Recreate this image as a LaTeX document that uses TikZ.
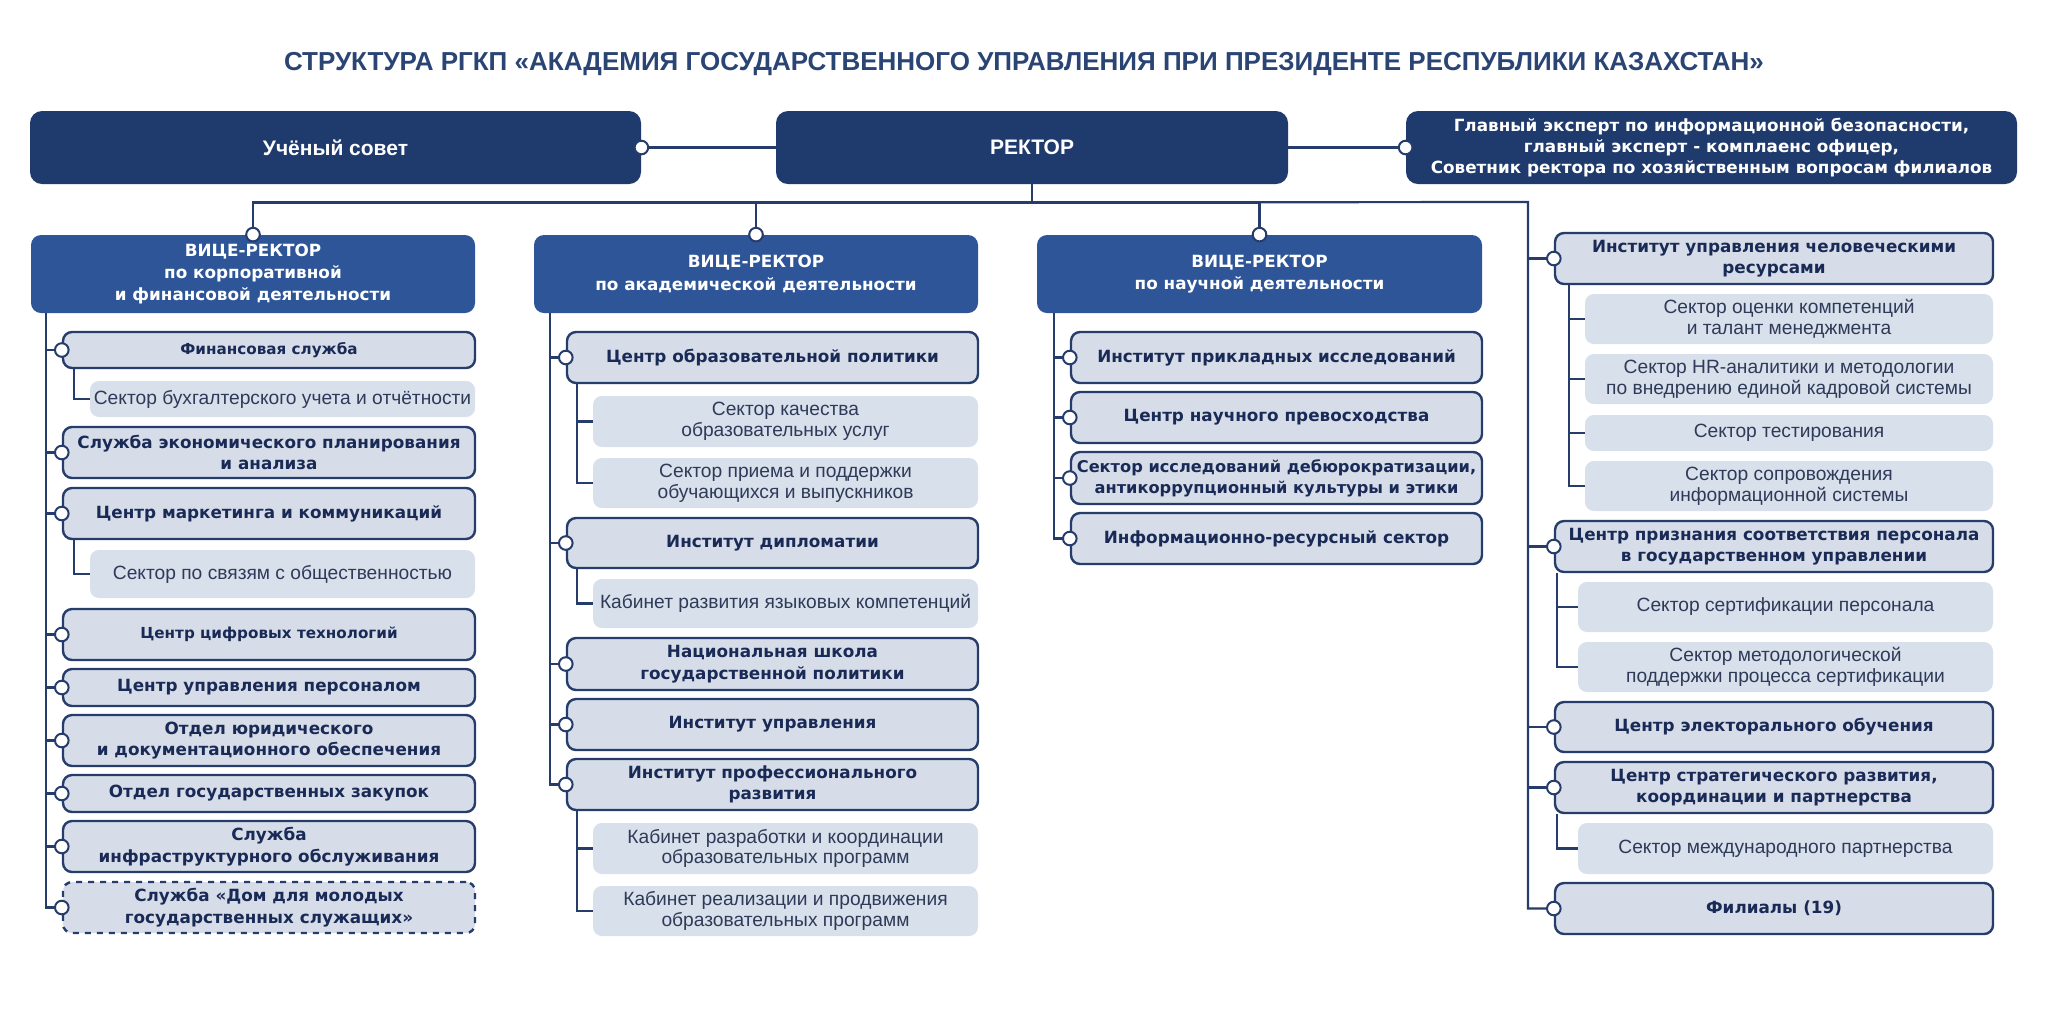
\documentclass[tikz,border=0pt]{standalone}
\usepackage{fontspec}
\usetikzlibrary{calc}
\setmainfont{Liberation Sans}
\newfontfamily\dvb{DejaVu Sans}
\definecolor{navy}{HTML}{1F3A6C}
\definecolor{vpblue}{HTML}{2E5597}
\definecolor{itemfill}{HTML}{D6DDE8}
\definecolor{subfill}{HTML}{D8E0EB}
\definecolor{edge}{HTML}{263D6C}
\definecolor{itxt}{HTML}{1A2A56}
\definecolor{stxt}{HTML}{2E3A58}
\definecolor{ttl}{HTML}{2A4474}
\newcommand\mkbox[7]{%
 \pgfmathsetmacro\bxc{(#3+#5)/2}%
 \pgfmathsetmacro\byc{(#4+#6)/2}%
 \pgfmathsetmacro\bw{(#5-#3)/2}%
 \pgfmathsetmacro\bh{(#6-#4)/2}%
 \node[#2, minimum width=\bw pt, minimum height=\bh pt] (#1) at (\bxc,\byc) {#7};}
\tikzset{
 topbox/.style={fill=navy, rounded corners=6pt, text=white, font=\bfseries\fontsize{10.5}{12}\selectfont, align=center, inner sep=0pt},
 expbox/.style={fill=navy, rounded corners=6pt, text=white, font=\dvb\bfseries\fontsize{8.4}{10.5}\selectfont, align=center, inner sep=0pt},
 vpbox/.style={fill=vpblue, rounded corners=5pt, text=white, font=\dvb\bfseries\fontsize{8.4}{11.2}\selectfont, align=center, inner sep=0pt},
 item/.style={fill=itemfill, draw=edge, line width=1.2pt, rounded corners=4.5pt, text=itxt, font=\dvb\bfseries\fontsize{8.4}{10.7}\selectfont, align=center, inner sep=0pt},
 smallitem/.style={item, font=\dvb\bfseries\fontsize{7.6}{9.5}\selectfont},
 tightitem/.style={item, font=\dvb\bfseries\fontsize{8.1}{10.4}\selectfont},
 dashitem/.style={item, dashed},
 sub/.style={fill=subfill, rounded corners=4.5pt, text=stxt, font=\fontsize{9.6}{10.4}\selectfont, align=center, inner sep=0pt},
 link/.style={draw=edge, line width=1.1pt},
 dot/.style={circle, draw=edge, fill=white, line width=1pt, minimum size=6.8pt, inner sep=0pt},
}
\begin{document}
\begin{tikzpicture}[x=0.5pt,y=-0.5pt]
\fill[white] (0,0) rectangle (2048,1009);
\useasboundingbox (0,0) rectangle (2048,1009);
\node[font=\bfseries\fontsize{13}{14}\selectfont, text=ttl] (title) at (1024,64) {СТРУКТУРА РГКП «АКАДЕМИЯ ГОСУДАРСТВЕННОГО УПРАВЛЕНИЯ ПРИ ПРЕЗИДЕНТЕ РЕСПУБЛИКИ КАЗАХСТАН»};
% top row
\mkbox{sovet}{topbox}{30}{111}{641}{184}{Учёный совет}
\mkbox{rector}{topbox}{776}{111}{1288}{184}{РЕКТОР}
\mkbox{expert}{expbox}{1406}{111}{2017}{184}{Главный эксперт по информационной безопасности,\\главный эксперт - комплаенс офицер,\\Советник ректора по хозяйственным вопросам филиалов}
% vice rectors
\mkbox{vp1}{vpbox}{31}{235}{475}{313}{ВИЦЕ-РЕКТОР\\по корпоративной\\и финансовой деятельности}
\mkbox{vp2}{vpbox}{534}{235}{978}{313}{ВИЦЕ-РЕКТОР\\по академической деятельности}
\mkbox{vp3}{vpbox}{1037}{235}{1482}{313}{ВИЦЕ-РЕКТОР\\по научной деятельности}
% column 1
\mkbox{c1a}{smallitem}{63}{332}{475}{368}{Финансовая служба}
\mkbox{c1a1}{sub}{90}{381}{475}{417}{Сектор бухгалтерского учета и отчётности}
\mkbox{c1b}{item}{63}{427}{475}{478}{Служба экономического планирования\\и анализа}
\mkbox{c1c}{item}{63}{488}{475}{539}{Центр маркетинга и коммуникаций}
\mkbox{c1c1}{sub}{90}{550}{475}{598}{Сектор по связям с общественностью}
\mkbox{c1d}{smallitem}{63}{609}{475}{660}{Центр цифровых технологий}
\mkbox{c1e}{item}{63}{669}{475}{706}{Центр управления персоналом}
\mkbox{c1f}{item}{63}{715}{475}{766}{Отдел юридического\\и документационного обеспечения}
\mkbox{c1g}{item}{63}{775}{475}{812}{Отдел государственных закупок}
\mkbox{c1h}{item}{63}{821}{475}{872}{Служба\\инфраструктурного обслуживания}
\mkbox{c1i}{dashitem}{63}{882}{475}{933}{Служба «Дом для молодых\\государственных служащих»}
% column 2
\mkbox{c2a}{item}{567}{332}{978}{383}{Центр образовательной политики}
\mkbox{c2a1}{sub}{593}{396}{978}{447}{Сектор качества\\образовательных услуг}
\mkbox{c2a2}{sub}{593}{458}{978}{508}{Сектор приема и поддержки\\обучающихся и выпускников}
\mkbox{c2b}{item}{567}{518}{978}{568}{Институт дипломатии}
\mkbox{c2b1}{sub}{593}{579}{978}{628}{Кабинет развития языковых компетенций}
\mkbox{c2c}{item}{567}{638}{978}{690}{Национальная школа\\государственной политики}
\mkbox{c2d}{item}{567}{699}{978}{750}{Институт управления}
\mkbox{c2e}{item}{567}{759}{978}{810}{Институт профессионального\\развития}
\mkbox{c2e1}{sub}{593}{823}{978}{874}{Кабинет разработки и координации\\образовательных программ}
\mkbox{c2e2}{sub}{593}{886}{978}{936}{Кабинет реализации и продвижения\\образовательных программ}
% column 3
\mkbox{c3a}{item}{1071}{332}{1482}{383}{Институт прикладных исследований}
\mkbox{c3b}{item}{1071}{392}{1482}{443}{Центр научного превосходства}
\mkbox{c3c}{tightitem}{1071}{452}{1482}{504}{Сектор исследований дебюрократизации,\\антикоррупционный культуры и этики}
\mkbox{c3d}{item}{1071}{513}{1482}{564}{Информационно-ресурсный сектор}
% column 4
\mkbox{c4a}{item}{1555}{233}{1993}{284}{Институт управления человеческими\\ресурсами}
\mkbox{c4a1}{sub}{1585}{294}{1993}{344}{Сектор оценки компетенций\\и талант менеджмента}
\mkbox{c4a2}{sub}{1585}{354}{1993}{404}{Сектор HR-аналитики и методологии\\по внедрению единой кадровой системы}
\mkbox{c4a3}{sub}{1585}{415}{1993}{451}{Сектор тестирования}
\mkbox{c4a4}{sub}{1585}{461}{1993}{511}{Сектор сопровождения\\информационной системы}
\mkbox{c4b}{item}{1555}{521}{1993}{572}{Центр признания соответствия персонала\\в государственном управлении}
\mkbox{c4b1}{sub}{1578}{582}{1993}{632}{Сектор сертификации персонала}
\mkbox{c4b2}{sub}{1578}{642}{1993}{692}{Сектор методологической\\поддержки процесса сертификации}
\mkbox{c4c}{item}{1555}{702}{1993}{752}{Центр электорального обучения}
\mkbox{c4d}{item}{1555}{762}{1993}{813}{Центр стратегического развития,\\координации и партнерства}
\mkbox{c4d1}{sub}{1578}{823}{1993}{874}{Сектор международного партнерства}
\mkbox{c4e}{item}{1555}{883}{1993}{934}{Филиалы (19)}
% top connectors
\draw[link] (sovet.east) -- (rector.west);
\draw[link] (rector.east) -- (expert.west);
\coordinate (hub) at ($(rector.south)+(0,18)$);
\draw[link] (rector.south) -- (hub);
\draw[link] (vp1.north) |- (hub);
\draw[link] (vp2.north) |- (hub);
\draw[link] (vp3.north) |- (hub);
\coordinate (s4) at (1528,202);
\draw[link] (hub) -- (s4) -- (s4 |- c4e.west) -- (c4e.west);
% column 1 spine
\coordinate (s1) at ($(vp1.south west)+(15,0)$);
\draw[link] (s1) |- (c1i.west);
\foreach \n in {c1a,c1b,c1c,c1d,c1e,c1f,c1g,c1h} \draw[link] (s1 |- \n.west) -- (\n.west);
\draw[link] ($(c1a.south west)+(12,0)$) |- (c1a1.west);
\draw[link] ($(c1c.south west)+(12,0)$) |- (c1c1.west);
% column 2 spine
\coordinate (s2) at ($(vp2.south west)+(16,0)$);
\draw[link] (s2) |- (c2e.west);
\foreach \n in {c2a,c2b,c2c,c2d} \draw[link] (s2 |- \n.west) -- (\n.west);
\coordinate (t2a) at ($(c2a.south west)+(11,0)$);
\draw[link] (t2a) |- (c2a2.west);
\draw[link] (t2a |- c2a1.west) -- (c2a1.west);
\draw[link] ($(c2b.south west)+(11,0)$) |- (c2b1.west);
\coordinate (t2e) at ($(c2e.south west)+(11,0)$);
\draw[link] (t2e) |- (c2e2.west);
\draw[link] (t2e |- c2e1.west) -- (c2e1.west);
% column 3 spine
\coordinate (s3) at ($(vp3.south west)+(17,0)$);
\draw[link] (s3) |- (c3d.west);
\foreach \n in {c3a,c3b,c3c} \draw[link] (s3 |- \n.west) -- (\n.west);
% column 4
\foreach \n in {c4a,c4b,c4c,c4d} \draw[link] (s4 |- \n.west) -- (\n.west);
\coordinate (t4a) at ($(c4a.south west)+(15,0)$);
\draw[link] (t4a) |- (c4a4.west);
\foreach \n in {c4a1,c4a2,c4a3} \draw[link] (t4a |- \n.west) -- (\n.west);
\coordinate (t4b) at ($(c4b.south west)+(3,0)$);
\draw[link] (t4b) |- (c4b2.west);
\draw[link] (t4b |- c4b1.west) -- (c4b1.west);
\draw[link] ($(c4d.south west)+(3,0)$) |- (c4d1.west);
% dots
\node[dot] at (sovet.east) {};
\node[dot] at (expert.west) {};
\foreach \n in {vp1,vp2,vp3} \node[dot] at (\n.north) {};
\foreach \n in {c1a,c1b,c1c,c1d,c1e,c1f,c1g,c1h,c1i,c2a,c2b,c2c,c2d,c2e,c3a,c3b,c3c,c3d,c4a,c4b,c4c,c4d,c4e} \node[dot] at (\n.west) {};
\end{tikzpicture}
\end{document}
